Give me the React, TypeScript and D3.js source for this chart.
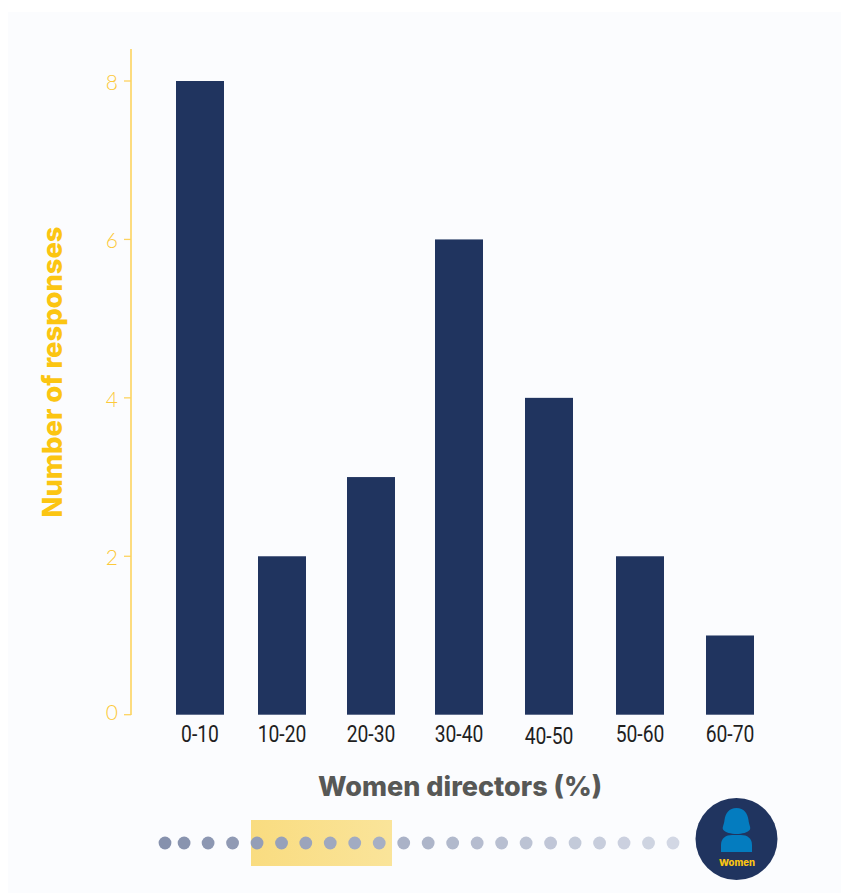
import React from "react";
import * as d3 from "d3";

const categories = ["0-10", "10-20", "20-30", "30-40", "40-50", "50-60", "60-70"];
const responses = [8, 2, 3, 6, 4, 2, 1];
const yTicks = [0, 2, 4, 6, 8];
const dotSteps = [0, 0.78, 1.76, 2.76, 3.76, 4.76, 5.75, 6.75, 7.75, 8.75, 9.75, 10.75, 11.75, 12.75, 13.75, 14.75, 15.75, 16.75, 17.75, 18.75, 19.75, 20.75];

const NAVY = "#20345f";
const YELLOW = "#fbc512";
const AXIS = "#fdd35f";
const BG = "#fbfcfe";

const barCentres = [200, 282, 371, 459, 549, 640, 730];
const x = d3.scaleOrdinal<string, number>().domain(categories).range(barCentres);
const y = d3.scaleLinear().domain([0, 8]).range([714.7, 81]);
const dotX = d3.scaleLinear().domain([0, 20.75]).range([165, 673]);
const dotColor = d3.scaleLinear<string>().domain([0, 20.75]).range(["#8691ad", "#d2d7e4"]);

const BAR_W = 48;
const SANS = "Lato, 'Open Sans', sans-serif";
const HEAVY = "Inter, 'Noto Sans', sans-serif";

export default function App() {
  return (
    <svg width={841} height={893} style={{ position: "absolute", left: 0, top: 0, display: "block" }}>
      <defs>
        <linearGradient id="band" x1="0" x2="1" y1="0" y2="0">
          <stop offset="0" stopColor="#f9dc80" />
          <stop offset="1" stopColor="#fae49a" />
        </linearGradient>
      </defs>
      <rect x={8} y={12} width={833} height={881} fill={BG} />

      {/* y axis */}
      <line x1={131} x2={131} y1={49} y2={715} stroke={AXIS} strokeWidth={1.6} />
      {yTicks.map((t) => (
        <g key={t}>
          <line x1={124} x2={131} y1={y(t)} y2={y(t)} stroke={AXIS} strokeWidth={1.3} />
          <text x={118} y={y(t) + (t === 0 ? 5 : 9)} textAnchor="end" fontFamily={SANS} fontSize={21} fontWeight={300} fill="#fcc93a">
            {t}
          </text>
        </g>
      ))}
      <text
        transform="translate(62,372) rotate(-90)"
        textAnchor="middle"
        fontFamily={HEAVY}
        fontSize={27}
        fontWeight={800}
        fill={YELLOW}
        textLength={291}
        lengthAdjust="spacingAndGlyphs"
      >
        Number of responses
      </text>

      {/* bars */}
      {categories.map((c, i) => (
        <rect key={c} x={x(c) - BAR_W / 2} y={y(responses[i])} width={BAR_W} height={y(0) - y(responses[i])} fill={NAVY} />
      ))}
      {categories.map((c) => (
        <text
          key={c}
          transform={`translate(${x(c)},${c === "40-50" ? 744 : 742}) scale(0.84,1)`}
          textAnchor="middle"
          fontFamily="Roboto, sans-serif"
          fontSize={23}
          fontWeight={400}
          fill="#1f1f1f"
        >
          {c}
        </text>
      ))}
      <text
        x={460}
        y={796}
        textAnchor="middle"
        fontFamily={HEAVY}
        fontSize={27}
        fontWeight={800}
        fill="#575856"
        textLength={284}
        lengthAdjust="spacingAndGlyphs"
      >
        Women directors (%)
      </text>

      {/* progress strip */}
      <rect x={251} y={820} width={141} height={46} fill="url(#band)" />
      {dotSteps.map((s) => (
        <circle key={s} cx={dotX(s)} cy={843} r={6.4} fill={dotColor(s)} />
      ))}

      {/* badge */}
      <circle cx={736.5} cy={839} r={41} fill={NAVY} />
      <path
        d="M736.5 808 C 729 808 725.5 813 724.5 820 C 724 825 722 827 723 829.5 C 725 832.5 731 834 736.5 834 C 742 834 748 832.5 750 829.5 C 751 827 749 825 748.5 820 C 747.5 813 744 808 736.5 808 Z"
        fill="#047cbf"
      />
      <path
        d="M721 852 L721 845 C721 838 726 835 732 835 L741 835 C747 835 752 838 752 845 L752 852 Z"
        fill="#047cbf"
      />
      <text x={737} y={866} textAnchor="middle" fontFamily={HEAVY} fontSize={9.5} fontWeight={800} fill={YELLOW}>
        Women
      </text>
    </svg>
  );
}
